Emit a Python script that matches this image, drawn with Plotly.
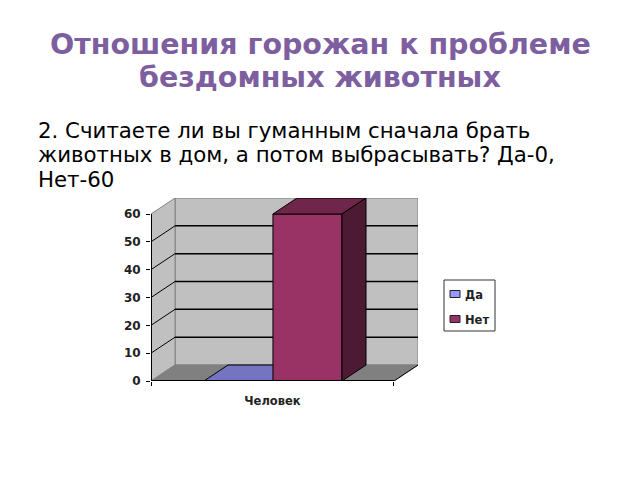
import plotly.graph_objects as go

series_names = ["Да", "Нет"]
series_values = [0, 60]
category = "Человек"
y_ticks = [0, 10, 20, 30, 40, 50, 60]
title_lines = ["Отношения горожан к проблеме", "бездомных животных"]
body_lines = [
    "2. Считаете ли вы гуманным сначала брать",
    "животных в дом, а потом выбрасывать? Да-0,",
    "Нет-60",
]

front_colors = ["#9999FF", "#993366"]
top_colors = ["#7474C0", "#70264B"]
side_colors = ["#555590", "#4D1A33"]

# 3d look: the back wall is the front plane moved by this much, in axis units
depth_x = 0.099
depth_y = 5.75
bar_width = 0.284
bar_start = 0.218
y_max = max(y_ticks)
wall_top = y_max + depth_y

# the page has an 8px body margin, so the figure is drawn smaller and shifted
PLOT_L, PLOT_R, PLOT_T, PLOT_B = 151, 418, 198, 381


def px(x):
    return (x - PLOT_L) / (PLOT_R - PLOT_L)


def py(y):
    return (PLOT_B - y) / (PLOT_B - PLOT_T)


def path(xs, ys):
    pts = [f"{x},{y}" for x, y in zip(xs, ys)]
    return "M" + " L".join(pts) + " Z"


def wall(xs, ys, fill, line="#808080"):
    return dict(type="path", path=path(xs, ys), fillcolor=fill, line=dict(color=line, width=1),
                xref="x", yref="y", layer="below")


def grid(xs, ys, width=1.5):
    return dict(type="path", path="M" + " L".join(f"{x},{y}" for x, y in zip(xs, ys)),
                line=dict(color="black", width=width), xref="x", yref="y", layer="below")


shapes = [
    wall([depth_x, 1 + depth_x, 1 + depth_x, depth_x], [depth_y, depth_y, wall_top, wall_top], "#C0C0C0"),
    wall([0, depth_x, depth_x, 0], [0, depth_y, wall_top, y_max], "#C0C0C0"),
    wall([0, 1, 1 + depth_x, depth_x], [0, 0, depth_y, depth_y], "#808080"),
    grid([1, 1 + depth_x], [0, depth_y], 1),
]
for t in y_ticks[1:-1]:
    shapes.append(grid([depth_x, 1 + depth_x], [t + depth_y, t + depth_y]))
    shapes.append(grid([0, depth_x], [t, t + depth_y], 1))

fig = go.Figure()

for i, (name, v) in enumerate(zip(series_names, series_values)):
    fig.add_trace(go.Bar(
        x=[bar_start + (i + 0.5) * bar_width], y=[v], width=bar_width, name=name,
        marker=dict(color=front_colors[i], line=dict(color="black", width=1)),
        showlegend=False,
    ))


def poly(xs, ys, fill):
    fig.add_trace(go.Scatter(
        x=xs, y=ys, mode="lines", fill="toself", fillcolor=fill,
        line=dict(color="black", width=1), showlegend=False, hoverinfo="skip",
    ))


# top and side faces of the bars, a flat bar's top has to stay behind its neighbour
for i, v in enumerate(series_values):
    x0 = bar_start + i * bar_width
    x1 = x0 + bar_width
    top_x = [x0, x1, x1 + depth_x, x0 + depth_x]
    top_y = [v, v, v + depth_y, v + depth_y]
    if v == 0:
        shapes.append(wall(top_x, top_y, top_colors[i], "black"))
        continue
    poly(top_x + top_x[:1], top_y + top_y[:1], top_colors[i])
    poly([x1, x1 + depth_x, x1 + depth_x, x1, x1],
         [0, depth_y, v + depth_y, v, 0], side_colors[i])

# axes drawn on the front plane
for xs, ys in [([0, 1], [0, 0]), ([0, 0], [0, y_max])]:
    fig.add_trace(go.Scatter(x=xs, y=ys, mode="lines", line=dict(color="black", width=2),
                             showlegend=False, hoverinfo="skip"))

# legend box, placed by hand to get the tight swatch spacing
shapes.append(dict(type="rect", xref="paper", yref="paper", x0=px(444), x1=px(495), y0=py(331), y1=py(280),
                   fillcolor="white", line=dict(color="#333333", width=1)))
for name, color, yy in zip(series_names, front_colors, [294, 319]):
    shapes.append(dict(type="rect", xref="paper", yref="paper", x0=px(450), x1=px(460), y0=py(yy + 3.5), y1=py(yy - 3.5),
                       fillcolor=color, line=dict(color="#222222", width=1)))

annotations = [
    dict(text=name, xref="paper", yref="paper", x=px(463), y=py(yy + 1), xanchor="left", yanchor="middle",
         showarrow=False, font=dict(family="DejaVu Sans", size=11.5, color="#222222", weight="bold"))
    for name, yy in zip(series_names, [294, 319])
]
annotations += [
    dict(text=line, xref="paper", yref="paper", x=px(320), y=py(yy), xanchor="center", yanchor="middle",
         showarrow=False, font=dict(family="DejaVu Sans", size=28.5, color="#7D5FA0", weight="bold"))
    for line, yy in zip(title_lines, [44, 78])
]
annotations += [
    dict(text=line, xref="paper", yref="paper", x=px(36), y=py(yy), xanchor="left", yanchor="middle",
         showarrow=False, font=dict(family="DejaVu Sans", size=21.3, color="black"))
    for line, yy in zip(body_lines, [130, 154, 179])
]

fig.update_layout(
    width=624,
    height=464,
    autosize=False,
    showlegend=False,
    paper_bgcolor="white",
    plot_bgcolor="white",
    barmode="overlay",
    margin=dict(l=PLOT_L - 8, r=632 - PLOT_R, t=PLOT_T - 8, b=472 - PLOT_B),
    font=dict(family="DejaVu Sans", color="#222222"),
    xaxis=dict(
        range=[0, 1 + depth_x], showgrid=False, zeroline=False, showline=False,
        tickmode="array", tickvals=[0.5], ticktext=[category], ticks="", ticklabelstandoff=11,
        tickfont=dict(size=11.5, family="DejaVu Sans", weight="bold"),
        minor=dict(tickmode="array", tickvals=[0, 1], ticks="outside", ticklen=4,
                   tickcolor="black", showgrid=False),
    ),
    yaxis=dict(
        range=[0, wall_top], showgrid=False, zeroline=False, showline=False,
        tickmode="array", tickvals=y_ticks, ticks="outside", ticklen=4, tickcolor="black",
        ticklabelstandoff=3,
        tickfont=dict(size=12, family="DejaVu Sans", weight="bold"),
    ),
    shapes=shapes,
    annotations=annotations,
)

fig.write_html("out.html")
